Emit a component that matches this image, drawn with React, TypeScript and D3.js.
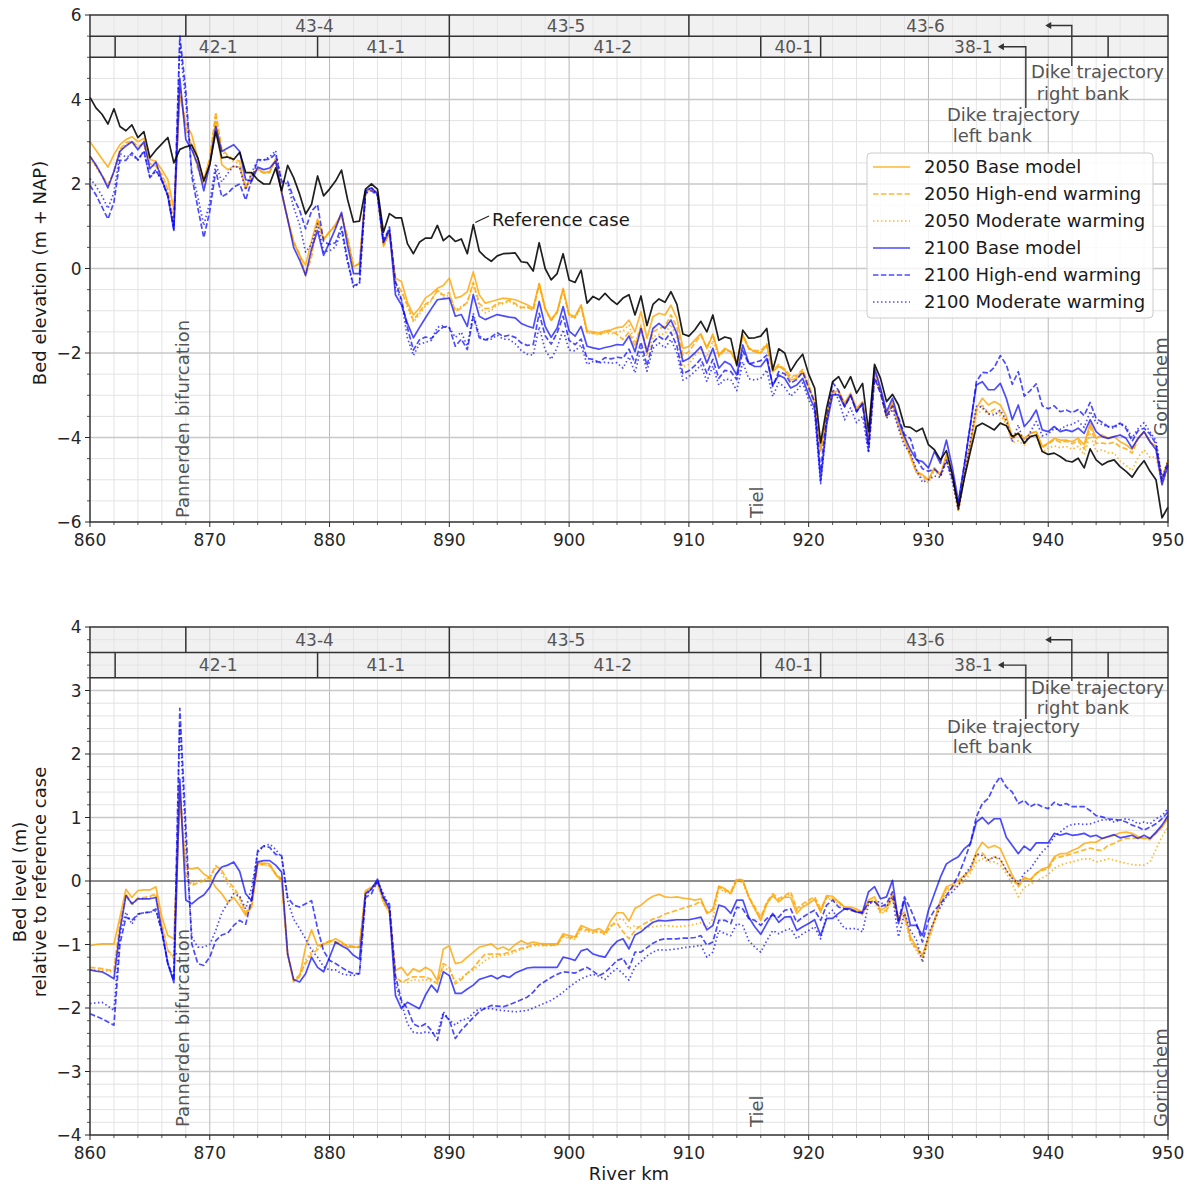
import React from 'react';
import * as d3 from 'd3';

// ---------------- DATA ----------------
const KM = d3.range(860, 950.001, 0.5);

// Top panel: bed elevation (m + NAP)
const REF = [4.05,3.8,3.65,3.42,3.78,3.36,3.26,3.4,3.1,3.24,
2.62,2.8,2.95,3.1,2.5,2.82,2.88,2.92,2.62,2.07,
2.46,3.24,2.62,2.64,2.58,2.75,2.27,2.27,2.1,2.0,
2.0,2.38,1.84,2.44,2.15,1.76,1.29,1.52,2.19,1.72,
1.88,2.07,2.33,1.64,1.1,1.12,1.88,2.0,1.88,0.86,
1.3,1.2,1.2,0.59,0.35,0.62,0.72,0.72,1.02,0.66,
0.78,0.64,0.7,0.35,1.04,0.41,0.27,0.17,0.3,0.35,
0.36,0.37,0.16,0.14,-0.06,0.61,0.0,-0.27,-0.12,0.35,
-0.27,-0.33,-0.04,-0.82,-0.66,-0.74,-0.59,-0.74,-0.85,-0.7,
-0.62,-1.1,-0.65,-1.35,-0.85,-0.72,-0.8,-0.55,-0.85,-1.55,
-1.6,-1.45,-1.25,-1.5,-1.1,-1.7,-1.62,-1.66,-2.3,-1.46,
-1.65,-1.64,-1.6,-1.42,-2.4,-1.9,-2.0,-2.43,-2.2,-2.03,
-2.5,-2.83,-4.13,-3.3,-2.68,-2.56,-2.83,-2.56,-2.95,-2.72,
-3.86,-2.27,-2.6,-3.15,-2.98,-3.23,-3.74,-3.76,-3.86,-3.78,
-4.17,-4.29,-4.53,-4.31,-4.88,-5.67,-4.96,-4.33,-3.74,-3.66,
-3.74,-3.82,-3.66,-3.72,-3.98,-3.9,-4.13,-3.98,-3.94,-4.33,
-4.4,-4.37,-4.45,-4.55,-4.58,-4.49,-4.72,-4.27,-4.53,-4.65,
-4.57,-4.53,-4.69,-4.8,-4.94,-4.72,-4.55,-4.8,-5.0,-5.9,
-5.65];

const T2050_BASE = [3.0,2.8,2.6,2.4,2.7,2.93,3.05,3.12,3.0,3.08,
2.58,2.54,2.34,2.1,1.4,4.1,3.44,3.16,2.6,2.1,
2.6,3.48,2.46,2.34,2.42,2.4,1.88,2.19,2.36,2.27,
2.3,2.58,1.8,1.17,0.62,0.31,0.08,0.66,1.17,0.69,
0.86,1.05,1.29,0.7,0.04,0.12,1.8,1.88,1.8,0.55,
0.86,-0.23,-0.31,-0.8,-1.1,-0.94,-0.7,-0.6,-0.47,-0.4,
-0.23,-0.7,-0.66,-0.55,-0.08,-0.62,-0.82,-0.78,-0.74,-0.7,
-0.72,-0.74,-0.8,-0.86,-0.94,-0.35,-0.94,-1.21,-1.02,-0.47,
-1.09,-1.13,-0.86,-1.48,-1.5,-1.52,-1.48,-1.45,-1.4,-1.38,
-1.22,-1.5,-1.02,-1.65,-1.14,-1.06,-1.1,-0.87,-1.18,-1.89,
-1.85,-1.69,-1.54,-1.89,-1.57,-2.05,-1.89,-1.97,-2.24,-1.57,
-1.89,-1.97,-2.0,-1.81,-2.44,-2.32,-2.4,-2.64,-2.6,-2.44,
-2.8,-3.19,-4.33,-3.5,-2.91,-2.91,-3.19,-2.95,-3.31,-3.15,
-4.1,-2.44,-2.91,-3.46,-3.15,-3.7,-4.02,-4.41,-4.8,-4.88,
-5.0,-4.72,-4.88,-4.41,-4.88,-5.67,-4.88,-4.17,-3.31,-3.07,
-3.23,-3.15,-3.23,-3.5,-3.98,-3.9,-4.02,-3.9,-3.86,-4.21,
-4.13,-4.02,-4.06,-4.06,-4.1,-4.02,-4.17,-3.66,-4.02,-3.94,
-4.02,-3.98,-4.1,-4.17,-4.29,-4.02,-3.86,-4.1,-4.21,-4.96,
-4.57];

const T2050_HIGH = [2.66,2.43,2.21,1.99,2.28,2.82,2.98,3.02,2.89,2.96,
2.48,2.43,2.23,1.87,1.11,4.3,3.33,2.9,2.36,1.99,
2.61,3.7,2.83,2.68,2.58,2.54,1.92,2.24,2.35,2.26,
2.27,2.6,1.83,1.17,0.64,0.34,-0.18,0.28,1.11,0.68,
0.88,1.0,1.26,0.73,0.05,0.11,1.77,1.88,1.8,0.52,
0.84,-0.33,-0.54,-0.86,-1.23,-1.02,-0.85,-0.74,-0.52,-0.63,
-0.57,-1.02,-0.93,-0.8,-0.33,-0.83,-0.95,-0.94,-0.82,-0.81,
-0.75,-0.83,-0.92,-0.91,-0.98,-0.37,-0.96,-1.23,-1.04,-0.5,
-1.12,-1.16,-0.89,-1.51,-1.53,-1.55,-1.51,-1.48,-1.56,-1.68,
-1.5,-1.85,-1.34,-2.0,-1.5,-1.42,-1.37,-1.1,-1.39,-2.05,
-1.97,-1.76,-1.58,-1.87,-1.55,-2.06,-1.92,-1.97,-2.22,-1.57,
-1.89,-1.94,-1.95,-1.78,-2.41,-2.27,-2.38,-2.55,-2.53,-2.39,
-2.74,-3.15,-4.28,-3.52,-2.95,-2.91,-3.19,-2.98,-3.33,-3.17,
-4.13,-2.49,-2.94,-3.51,-3.2,-3.75,-4.07,-4.46,-4.83,-4.91,
-5.03,-4.72,-4.91,-4.44,-4.92,-5.72,-4.91,-4.17,-3.37,-3.24,
-3.42,-3.33,-3.41,-3.63,-4.03,-3.92,-4.04,-3.91,-3.86,-4.23,
-4.16,-4.05,-4.11,-4.09,-4.15,-4.08,-4.27,-3.75,-4.14,-4.13,
-4.15,-4.11,-4.22,-4.27,-4.37,-4.04,-3.87,-4.12,-4.21,-4.96,
-4.54];

const T2050_MOD = [2.62,2.4,2.18,1.97,2.26,2.8,2.94,3.0,2.87,2.94,
2.46,2.41,2.21,1.86,1.09,4.2,3.28,2.92,2.39,2.01,
2.6,3.6,2.78,2.63,2.53,2.49,1.9,2.22,2.34,2.25,
2.28,2.56,1.78,1.16,0.65,0.32,-0.13,0.33,1.14,0.7,
0.87,0.99,1.25,0.72,0.04,0.11,1.78,1.87,1.79,0.53,
0.83,-0.35,-0.53,-0.91,-1.27,-1.08,-0.89,-0.77,-0.5,-0.68,
-0.63,-0.98,-0.9,-0.8,-0.36,-0.91,-1.05,-0.99,-0.86,-0.83,
-0.78,-0.86,-0.94,-0.92,-1.0,-0.39,-0.97,-1.24,-1.04,-0.52,
-1.13,-1.17,-0.93,-1.53,-1.54,-1.57,-1.52,-1.55,-1.5,-1.48,
-1.34,-1.77,-1.39,-2.08,-1.62,-1.56,-1.55,-1.32,-1.65,-2.33,
-2.27,-2.07,-1.92,-2.1,-1.71,-2.09,-1.94,-1.97,-2.26,-1.6,
-1.91,-1.97,-1.98,-1.81,-2.44,-2.29,-2.41,-2.58,-2.55,-2.42,
-2.77,-3.18,-4.31,-3.54,-2.97,-2.94,-3.21,-3.0,-3.35,-3.19,
-4.15,-2.51,-2.96,-3.53,-3.23,-3.77,-4.1,-4.48,-4.86,-4.96,
-5.07,-4.76,-4.95,-4.48,-4.95,-5.75,-4.97,-4.22,-3.47,-3.33,
-3.45,-3.41,-3.49,-3.68,-4.12,-4.08,-4.18,-3.97,-3.98,-4.35,
-4.25,-4.2,-4.24,-4.21,-4.28,-4.21,-4.41,-3.92,-4.33,-4.29,
-4.36,-4.37,-4.56,-4.66,-4.78,-4.47,-4.29,-4.47,-4.46,-5.11,
-4.7];

const T2100_BASE = [2.66,2.45,2.2,1.91,2.3,2.77,2.9,3.0,2.81,3.0,
2.36,2.52,2.1,1.72,0.9,4.5,3.05,2.81,2.46,1.84,
2.46,3.36,2.77,2.85,2.93,2.77,2.1,2.07,2.4,2.34,
2.38,2.54,1.8,1.17,0.5,0.2,-0.16,0.47,0.9,0.31,
0.62,0.95,1.33,0.55,-0.12,-0.12,1.84,1.91,1.76,0.62,
0.9,-0.62,-0.86,-1.3,-1.64,-1.4,-1.17,-0.95,-0.74,-0.72,
-0.7,-1.13,-1.09,-1.37,-0.62,-1.13,-1.21,-1.15,-1.09,-1.12,
-1.15,-1.17,-1.3,-1.36,-1.41,-0.78,-1.37,-1.63,-1.41,-0.9,
-1.48,-1.6,-1.37,-1.84,-1.88,-1.91,-1.87,-1.84,-1.8,-1.81,
-1.6,-1.97,-1.42,-1.97,-1.42,-1.3,-1.42,-1.22,-1.54,-2.2,
-2.13,-2.0,-1.85,-2.24,-1.89,-2.36,-2.2,-2.28,-2.52,-1.81,
-2.24,-2.32,-2.32,-2.13,-2.76,-2.52,-2.6,-2.83,-2.76,-2.6,
-2.99,-3.31,-5.04,-3.7,-2.99,-2.99,-3.27,-2.99,-3.39,-3.19,
-4.17,-2.36,-2.83,-3.39,-3.07,-3.58,-3.98,-4.29,-4.53,-4.57,
-4.72,-4.33,-4.61,-4.06,-4.72,-5.51,-4.65,-3.7,-2.76,-2.68,
-2.87,-2.87,-2.72,-3.07,-3.58,-3.23,-3.74,-3.58,-3.35,-3.82,
-3.86,-3.74,-3.86,-3.82,-3.86,-3.78,-3.9,-3.58,-3.86,-3.98,
-4.02,-3.98,-3.94,-4.02,-4.25,-4.02,-3.86,-4.1,-4.29,-5.12,
-4.65];

const T2100_HIGH = [1.97,1.74,1.46,1.17,1.57,2.56,2.56,2.74,2.57,2.78,
2.15,2.34,2.07,1.72,0.93,5.5,4.2,2.18,1.44,0.73,
1.36,2.32,1.7,1.78,1.93,2.0,1.62,2.1,2.58,2.57,
2.59,2.71,2.06,2.06,1.67,1.38,0.94,1.36,1.51,0.64,
0.57,0.61,0.99,0.2,-0.41,-0.35,1.78,1.84,1.73,0.62,
0.98,-0.31,-0.73,-1.4,-1.93,-1.69,-1.62,-1.66,-1.5,-1.38,
-1.4,-1.84,-1.67,-1.92,-1.13,-1.64,-1.69,-1.62,-1.52,-1.61,
-1.58,-1.63,-1.76,-1.82,-1.8,-1.06,-1.59,-1.79,-1.52,-1.13,
-1.7,-1.8,-1.67,-2.13,-2.15,-2.22,-2.11,-2.14,-2.1,-2.12,
-1.91,-2.24,-1.74,-2.3,-1.75,-1.61,-1.7,-1.51,-1.84,-2.49,
-2.42,-2.3,-2.14,-2.48,-2.15,-2.6,-2.41,-2.44,-2.63,-1.95,
-2.26,-2.22,-2.18,-2.05,-2.79,-2.44,-2.49,-2.71,-2.63,-2.45,
-2.83,-3.16,-4.8,-3.49,-2.7,-2.89,-3.27,-3.01,-3.39,-3.21,
-4.33,-2.6,-2.96,-3.5,-3.25,-3.53,-3.93,-4.03,-4.5,-4.74,
-4.8,-4.75,-4.89,-4.54,-4.97,-5.58,-4.63,-3.7,-2.68,-2.46,
-2.47,-2.34,-2.06,-2.28,-2.74,-2.44,-3.02,-2.89,-2.73,-3.25,
-3.32,-3.25,-3.39,-3.35,-3.41,-3.34,-3.48,-3.17,-3.55,-3.64,
-3.74,-3.74,-3.66,-3.79,-4.09,-3.84,-3.78,-3.92,-4.16,-5.02,
-4.59];

const T2100_MOD = [2.13,1.95,1.72,1.42,1.8,2.72,2.64,2.68,2.57,2.78,
2.15,2.31,2.1,1.72,0.99,5.3,3.95,2.29,1.7,1.02,
1.56,2.48,2.05,2.25,2.43,2.38,1.86,2.28,2.55,2.57,
2.64,2.79,2.03,2.01,1.45,1.04,0.39,0.58,1.06,0.39,
0.42,0.51,0.89,0.14,-0.44,-0.35,1.81,1.92,1.73,0.68,
0.93,-0.44,-0.76,-1.64,-2.06,-1.79,-1.75,-1.7,-1.39,-1.35,
-1.4,-1.63,-1.51,-1.84,-1.06,-1.59,-1.7,-1.67,-1.58,-1.67,
-1.68,-1.78,-1.94,-2.03,-2.05,-1.38,-1.93,-2.15,-1.87,-1.45,
-1.93,-1.95,-1.81,-2.27,-2.2,-2.23,-2.22,-2.24,-2.23,-2.36,
-2.09,-2.47,-1.89,-2.43,-1.89,-1.76,-1.88,-1.68,-2.0,-2.64,
-2.56,-2.44,-2.29,-2.67,-2.31,-2.76,-2.62,-2.63,-2.89,-2.21,
-2.61,-2.64,-2.6,-2.4,-3.03,-2.7,-2.81,-3.02,-2.89,-2.71,
-3.1,-3.42,-5.09,-3.65,-2.86,-3.1,-3.58,-3.3,-3.65,-3.5,
-4.36,-2.6,-2.88,-3.55,-3.33,-3.79,-4.19,-4.37,-4.76,-5.06,
-5.0,-4.91,-4.94,-4.56,-5.05,-5.74,-4.87,-4.07,-3.26,-3.28,
-3.44,-3.47,-3.35,-3.59,-4.1,-3.7,-4.17,-3.87,-3.62,-3.96,
-3.91,-3.79,-3.81,-3.72,-3.69,-3.61,-3.76,-3.38,-3.65,-3.69,
-3.75,-3.78,-3.66,-3.74,-4.01,-3.79,-3.65,-3.87,-4.08,-4.97,
-4.54];

// Bottom panel: bed level relative to reference case (m)
const D2050_BASE = [-1.02,-1.0,-0.99,-0.99,-0.99,-0.57,-0.13,-0.26,-0.15,-0.14,
-0.14,-0.09,-0.57,-0.86,-0.91,1.3,0.21,0.19,0.21,0.11,
0.05,-0.1,-0.2,-0.34,-0.26,-0.39,-0.54,-0.41,0.28,0.28,
0.27,0.1,0.0,-1.15,-1.59,-1.51,-1.04,-0.77,-1.02,-0.99,
-0.96,-0.91,-0.96,-1.04,-1.04,-1.04,-0.15,-0.1,-0.02,-0.31,
-0.47,-1.41,-1.36,-1.49,-1.38,-1.43,-1.36,-1.41,-1.57,-1.07,
-1.02,-1.3,-1.28,-1.2,-1.12,-1.04,-1.02,-0.99,-1.07,-1.04,
-1.09,-1.0,-0.94,-0.99,-0.96,-0.98,-0.99,-0.99,-0.99,-0.83,
-0.86,-0.88,-0.7,-0.74,-0.78,-0.75,-0.81,-0.62,-0.5,-0.5,
-0.63,-0.43,-0.38,-0.3,-0.24,-0.21,-0.25,-0.26,-0.25,-0.27,
-0.28,-0.3,-0.28,-0.51,-0.46,-0.08,-0.12,-0.2,0.02,0.01,
-0.25,-0.44,-0.62,-0.36,-0.23,-0.33,-0.25,-0.26,-0.51,-0.41,
-0.36,-0.29,-0.49,-0.23,-0.24,-0.33,-0.41,-0.41,-0.44,-0.49,
-0.3,-0.25,-0.46,-0.41,-0.2,-0.57,-0.49,-0.88,-1.04,-1.17,
-0.88,-0.62,-0.3,-0.09,-0.05,0.01,0.09,0.17,0.46,0.61,
0.52,0.56,0.51,0.3,0.09,-0.07,0.06,0.02,0.12,0.19,
0.22,0.38,0.43,0.43,0.48,0.52,0.59,0.61,0.61,0.67,
0.69,0.72,0.76,0.77,0.75,0.7,0.68,0.67,0.75,0.85,
0.98];

const D2050_HIGH = [-1.36,-1.37,-1.38,-1.4,-1.41,-0.68,-0.2,-0.36,-0.26,-0.26,
-0.24,-0.2,-0.68,-1.09,-1.2,1.5,0.1,-0.07,-0.03,0.0,
0.06,0.24,0.17,0.0,-0.1,-0.25,-0.5,-0.36,0.27,0.26,
0.24,0.12,0.03,-1.15,-1.57,-1.48,-1.3,-1.15,-1.08,-1.0,
-0.94,-0.96,-0.99,-1.01,-1.03,-1.04,-0.18,-0.1,-0.02,-0.34,
-0.49,-1.51,-1.59,-1.55,-1.51,-1.51,-1.51,-1.55,-1.62,-1.3,
-1.36,-1.62,-1.55,-1.45,-1.37,-1.25,-1.15,-1.15,-1.15,-1.15,
-1.12,-1.09,-1.06,-1.04,-1.0,-1.0,-1.01,-1.01,-1.01,-0.86,
-0.89,-0.9,-0.74,-0.77,-0.8,-0.78,-0.84,-0.7,-0.66,-0.8,
-0.91,-0.78,-0.7,-0.65,-0.6,-0.57,-0.52,-0.49,-0.46,-0.43,
-0.4,-0.37,-0.32,-0.49,-0.44,-0.09,-0.15,-0.17,0.04,0.01,
-0.25,-0.41,-0.57,-0.33,-0.2,-0.28,-0.23,-0.17,-0.44,-0.36,
-0.3,-0.25,-0.44,-0.25,-0.28,-0.33,-0.41,-0.44,-0.46,-0.51,
-0.33,-0.3,-0.49,-0.46,-0.25,-0.62,-0.54,-0.93,-1.07,-1.2,
-0.91,-0.62,-0.33,-0.12,-0.09,-0.04,0.06,0.17,0.4,0.44,
0.33,0.38,0.33,0.17,0.04,-0.09,0.04,0.01,0.12,0.17,
0.19,0.35,0.38,0.4,0.43,0.46,0.49,0.52,0.49,0.48,
0.56,0.59,0.64,0.67,0.67,0.68,0.67,0.65,0.75,0.85,
1.01];

const D2050_MOD = [-1.4,-1.4,-1.41,-1.42,-1.43,-0.7,-0.24,-0.38,-0.28,-0.28,
-0.26,-0.22,-0.7,-1.1,-1.22,1.4,0.05,-0.05,0.0,0.02,
0.05,0.2,0.12,-0.05,-0.15,-0.3,-0.52,-0.38,0.26,0.25,
0.23,0.1,0.02,-1.16,-1.56,-1.5,-1.25,-1.1,-1.05,-0.98,
-0.95,-0.97,-1.0,-1.02,-1.04,-1.05,-0.17,-0.11,-0.03,-0.33,
-0.5,-1.53,-1.58,-1.6,-1.55,-1.57,-1.55,-1.58,-1.6,-1.35,
-1.42,-1.58,-1.52,-1.45,-1.4,-1.33,-1.25,-1.2,-1.19,-1.17,
-1.15,-1.12,-1.08,-1.05,-1.02,-1.02,-1.02,-1.02,-1.01,-0.88,
-0.9,-0.92,-0.77,-0.79,-0.82,-0.8,-0.85,-0.72,-0.6,-0.6,
-0.75,-0.7,-0.75,-0.73,-0.72,-0.71,-0.7,-0.71,-0.72,-0.71,
-0.7,-0.68,-0.66,-0.72,-0.6,-0.12,-0.17,-0.2,0.0,-0.02,
-0.27,-0.44,-0.6,-0.36,-0.23,-0.3,-0.26,-0.2,-0.46,-0.39,
-0.33,-0.28,-0.47,-0.27,-0.3,-0.36,-0.43,-0.46,-0.48,-0.53,
-0.35,-0.32,-0.51,-0.48,-0.28,-0.64,-0.57,-0.95,-1.1,-1.25,
-0.95,-0.66,-0.37,-0.16,-0.12,-0.07,0.0,0.12,0.3,0.35,
0.3,0.3,0.25,0.12,-0.05,-0.25,-0.1,-0.05,0.0,0.05,
0.1,0.2,0.25,0.28,0.3,0.33,0.35,0.35,0.3,0.32,
0.35,0.33,0.3,0.28,0.26,0.25,0.25,0.3,0.5,0.7,
0.85];

const D2100_BASE = [-1.4,-1.42,-1.43,-1.48,-1.54,-0.78,-0.23,-0.36,-0.28,-0.28,
-0.28,-0.26,-0.78,-1.3,-1.6,1.6,-0.3,-0.36,-0.28,-0.22,
-0.1,0.1,0.22,0.25,0.3,0.15,-0.2,-0.31,0.3,0.32,
0.32,0.25,0.14,-1.15,-1.55,-1.59,-1.46,-1.2,-1.36,-1.43,
-1.2,-0.96,-1.02,-1.07,-1.17,-1.23,-0.2,-0.13,0.03,-0.26,
-0.44,-1.8,-2.01,-1.91,-1.96,-2.01,-1.8,-1.64,-1.75,-1.43,
-1.49,-1.77,-1.77,-1.7,-1.64,-1.55,-1.52,-1.49,-1.54,-1.49,
-1.52,-1.45,-1.41,-1.37,-1.36,-1.36,-1.36,-1.36,-1.36,-1.2,
-1.22,-1.25,-1.1,-1.07,-1.15,-1.18,-1.2,-1.05,-0.95,-0.91,
-1.07,-0.85,-0.8,-0.72,-0.65,-0.62,-0.63,-0.62,-0.61,-0.61,
-0.61,-0.59,-0.57,-0.77,-0.7,-0.38,-0.41,-0.51,-0.3,-0.3,
-0.57,-0.72,-0.84,-0.67,-0.51,-0.65,-0.57,-0.56,-0.78,-0.72,
-0.67,-0.61,-0.86,-0.59,-0.59,-0.51,-0.44,-0.44,-0.49,-0.49,
-0.17,-0.09,-0.28,-0.25,0.01,-0.67,-0.3,-0.7,-0.7,-0.86,
-0.46,-0.2,0.06,0.27,0.33,0.38,0.51,0.59,0.93,1.0,
0.9,0.98,0.98,0.69,0.56,0.43,0.55,0.48,0.6,0.6,
0.6,0.75,0.72,0.75,0.72,0.73,0.75,0.7,0.72,0.67,
0.7,0.73,0.68,0.7,0.72,0.67,0.72,0.67,0.77,0.88,
1.03];

const D2100_HIGH = [-2.09,-2.13,-2.17,-2.22,-2.27,-0.99,-0.57,-0.62,-0.52,-0.5,
-0.49,-0.44,-0.81,-1.3,-1.57,2.72,0.85,-0.99,-1.3,-1.33,
-1.2,-0.94,-0.85,-0.82,-0.7,-0.62,-0.68,-0.28,0.48,0.55,
0.53,0.42,0.4,-0.26,-0.38,-0.41,-0.36,-0.31,-0.75,-1.1,
-1.25,-1.3,-1.36,-1.42,-1.46,-1.46,-0.26,-0.2,0.0,-0.26,
-0.36,-1.49,-1.88,-2.01,-2.25,-2.3,-2.25,-2.35,-2.51,-2.09,
-2.19,-2.48,-2.35,-2.25,-2.15,-2.06,-2.0,-1.96,-1.97,-1.98,
-1.95,-1.91,-1.87,-1.83,-1.75,-1.64,-1.58,-1.52,-1.47,-1.43,
-1.44,-1.45,-1.4,-1.36,-1.42,-1.49,-1.44,-1.35,-1.25,-1.22,
-1.38,-1.12,-1.12,-1.05,-0.98,-0.93,-0.91,-0.91,-0.91,-0.9,
-0.9,-0.89,-0.86,-1.01,-0.96,-0.62,-0.62,-0.67,-0.41,-0.44,
-0.59,-0.62,-0.7,-0.59,-0.54,-0.57,-0.46,-0.44,-0.65,-0.57,
-0.51,-0.46,-0.62,-0.38,-0.3,-0.41,-0.44,-0.46,-0.49,-0.51,
-0.33,-0.33,-0.41,-0.36,-0.17,-0.62,-0.25,-0.44,-0.67,-0.96,
-0.62,-0.46,-0.36,-0.23,-0.09,0.09,0.33,0.59,1.01,1.22,
1.3,1.51,1.64,1.48,1.4,1.22,1.27,1.17,1.22,1.17,
1.14,1.24,1.19,1.22,1.17,1.17,1.17,1.11,1.03,1.01,
0.98,0.97,0.96,0.93,0.88,0.85,0.8,0.85,0.9,0.98,
1.09];

const D2100_MOD = [-1.93,-1.92,-1.91,-1.97,-2.04,-0.83,-0.49,-0.68,-0.52,-0.5,
-0.49,-0.47,-0.78,-1.3,-1.51,2.47,0.6,-0.88,-1.04,-1.04,
-1.0,-0.78,-0.5,-0.35,-0.2,-0.24,-0.44,-0.1,0.45,0.55,
0.58,0.5,0.37,-0.31,-0.6,-0.75,-0.91,-1.09,-1.2,-1.35,
-1.4,-1.4,-1.46,-1.48,-1.49,-1.46,-0.23,-0.12,0.0,-0.2,
-0.41,-1.62,-1.91,-2.25,-2.38,-2.4,-2.38,-2.39,-2.4,-2.06,
-2.19,-2.27,-2.19,-2.17,-2.08,-2.01,-2.01,-2.01,-2.03,-2.04,
-2.05,-2.06,-2.05,-2.04,-2.0,-1.96,-1.92,-1.88,-1.82,-1.75,
-1.67,-1.6,-1.54,-1.5,-1.47,-1.5,-1.55,-1.45,-1.38,-1.46,
-1.56,-1.35,-1.27,-1.18,-1.12,-1.08,-1.09,-1.08,-1.07,-1.05,
-1.04,-1.03,-1.01,-1.2,-1.12,-0.78,-0.83,-0.86,-0.67,-0.7,
-0.94,-1.04,-1.12,-0.94,-0.78,-0.83,-0.78,-0.75,-0.91,-0.83,
-0.78,-0.72,-0.91,-0.54,-0.46,-0.62,-0.75,-0.75,-0.75,-0.8,
-0.36,-0.33,-0.33,-0.41,-0.25,-0.88,-0.51,-0.78,-0.93,-1.28,
-0.83,-0.62,-0.41,-0.25,-0.17,-0.07,0.09,0.22,0.43,0.4,
0.33,0.38,0.35,0.17,0.04,-0.04,0.12,0.19,0.33,0.46,
0.55,0.7,0.77,0.85,0.89,0.9,0.89,0.9,0.93,0.96,
0.97,0.93,0.96,0.98,0.96,0.9,0.93,0.9,0.98,1.03,
1.14];

// Section headers (river km boundaries and labels)
const DIKE_RING_EDGES = [868, 890, 910];
const DIKE_RING_LABELS = ['43-4', '43-5', '43-6'];
const DIKE_RING_LABEL_KM = [878.75, 899.75, 929.75];
const DIKE_TRAJ_EDGES = [862.1, 879, 890, 916, 921, 945];
const DIKE_TRAJ_LABELS = ['42-1', '41-1', '41-2', '40-1', '38-1'];
const DIKE_TRAJ_LABEL_KM = [870.7, 884.7, 903.65, 918.75, 933.75];

const PLACES = ['Pannerden bifurcation', 'Tiel', 'Gorinchem'];
const PLACE_KM = [868.27, 916.2, 949.9];

const X_TICKS = d3.range(860, 951, 10);

// ---------------- STYLE ----------------
const FONT = "'DejaVu Sans', 'Liberation Sans', sans-serif";
const W = 1192;
const H = 1183;
const ORANGE = '#ffa500';
const BLUE = '#0000ff';
const DASHED = '5.5,2.4';
const DOTTED = '1.5,2.5';
const TXT_GRAY = '#555555';

const SERIES = [
  { label: '2050 Base model', color: ORANGE, op: 0.8, dash: undefined as string | undefined, top: T2050_BASE, diff: D2050_BASE },
  { label: '2050 High-end warming', color: ORANGE, op: 0.8, dash: DASHED, top: T2050_HIGH, diff: D2050_HIGH },
  { label: '2050 Moderate warming', color: ORANGE, op: 0.8, dash: DOTTED, top: T2050_MOD, diff: D2050_MOD },
  { label: '2100 Base model', color: BLUE, op: 0.7, dash: undefined as string | undefined, top: T2100_BASE, diff: D2100_BASE },
  { label: '2100 High-end warming', color: BLUE, op: 0.7, dash: DASHED, top: T2100_HIGH, diff: D2100_HIGH },
  { label: '2100 Moderate warming', color: BLUE, op: 0.7, dash: DOTTED, top: T2100_MOD, diff: D2100_MOD },
];

const x = d3.scaleLinear().domain([860, 950]).range([90, 1168]);

const fmt = (v: number) => {
  const r = Math.round(v * 100) / 100;
  return r < 0 ? '\u2212' + String(Math.abs(r)) : String(r);
};

interface PanelCfg {
  y: d3.ScaleLinear<number, number>;
  yMin: number;
  yMax: number;
  major: number;
  minor: number;
  row1: [number, number];
  row2: [number, number];
  key: 'top' | 'diff';
  placeBottom: number[];
  annot: { rb: number[]; lb: number[]; rbStart: number; lbStart: number };
}

function Panel({ cfg }: { cfg: PanelCfg }) {
  const { y, yMin, yMax, major, minor } = cfg;
  const top = y(yMax);
  const bottom = y(yMin);
  const xl = x.range()[0];
  const xr = x.range()[1];

  const yMajor = d3.range(Math.round(yMin / major), Math.round(yMax / major) + 1).map((i) => i * major);
  const yMinorAll = d3.range(Math.round(yMin / minor), Math.round(yMax / minor) + 1).map((i) => Math.round(i * minor * 1000) / 1000);
  const yMinor = yMinorAll.filter((v) => Math.abs(v / major - Math.round(v / major)) > 1e-6);
  const xMinor = d3.range(860, 951, 2).filter((v) => v % 10 !== 0);

  const line = d3
    .line<number>()
    .x((_, i) => x(KM[i]))
    .y((d) => y(d));

  const r1a = y(cfg.row1[1]);
  const r1b = y(cfg.row1[0]);
  const r2a = y(cfg.row2[1]);
  const r2b = y(cfg.row2[0]);
  const r1c = (r1a + r1b) / 2;
  const r2c = (r2a + r2b) / 2;

  const rbTip = x(939.75);
  const rbCorner = x(941.97);
  const lbTip = x(935.8);
  const lbCorner = x(938.13);

  return (
    <g>
      {/* grid */}
      {xMinor.map((v) => (
        <line key={'xm' + v} x1={x(v)} x2={x(v)} y1={top} y2={bottom} stroke="#e3e3e3" strokeWidth={1} />
      ))}
      {yMinor.map((v) => (
        <line key={'ym' + v} x1={xl} x2={xr} y1={y(v)} y2={y(v)} stroke="#e3e3e3" strokeWidth={1} />
      ))}
      {X_TICKS.map((v) => (
        <line key={'xM' + v} x1={x(v)} x2={x(v)} y1={top} y2={bottom} stroke="#b8b8b8" strokeWidth={1} />
      ))}
      {yMajor.map((v) => (
        <line key={'yM' + v} x1={xl} x2={xr} y1={y(v)} y2={y(v)} stroke="#c8c8c8" strokeWidth={1.4} />
      ))}
      {cfg.key === 'diff' && <line x1={xl} x2={xr} y1={y(0)} y2={y(0)} stroke="#444" strokeWidth={1.2} />}

      {/* header rows */}
      <rect x={xl} y={r1a} width={xr - xl} height={r2b - r1a} fill="#e4e4e4" opacity={0.5} />
      <line x1={xl} x2={xr} y1={r2a} y2={r2a} stroke="#333" strokeWidth={1.5} />
      <line x1={xl} x2={xr} y1={r2b} y2={r2b} stroke="#333" strokeWidth={1.5} />
      {DIKE_RING_EDGES.map((k) => (
        <line key={'r1' + k} x1={x(k)} x2={x(k)} y1={r1a} y2={r1b} stroke="#333" strokeWidth={1.5} />
      ))}
      {DIKE_TRAJ_EDGES.map((k) => (
        <line key={'r2' + k} x1={x(k)} x2={x(k)} y1={r2a} y2={r2b} stroke="#333" strokeWidth={1.5} />
      ))}
      {DIKE_RING_LABELS.map((t, i) => (
        <text key={t} x={x(DIKE_RING_LABEL_KM[i])} y={r1c + 6} textAnchor="middle" fontSize={17} fill={TXT_GRAY} fontFamily={FONT}>
          {t}
        </text>
      ))}
      {DIKE_TRAJ_LABELS.map((t, i) => (
        <text key={t} x={x(DIKE_TRAJ_LABEL_KM[i])} y={r2c + 6} textAnchor="middle" fontSize={17} fill={TXT_GRAY} fontFamily={FONT}>
          {t}
        </text>
      ))}

      {/* data lines */}
      {SERIES.map((s) => (
        <path
          key={s.label}
          d={line(cfg.key === 'top' ? s.top : s.diff) || ''}
          fill="none"
          stroke={s.color}
          strokeOpacity={s.op}
          strokeWidth={1.7}
          strokeDasharray={s.dash}
          strokeLinejoin="round"
        />
      ))}
      {cfg.key === 'top' && (
        <path d={line(REF) || ''} fill="none" stroke="#000" strokeOpacity={0.88} strokeWidth={1.7} strokeLinejoin="round" />
      )}

      {/* place names */}
      {PLACES.map((p, i) => (
        <text
          key={p}
          transform={`translate(${x(PLACE_KM[i])},${cfg.placeBottom[i]}) rotate(-90)`}
          fontSize={18}
          fill={TXT_GRAY}
          fontFamily={FONT}
        >
          {p}
        </text>
      ))}

      {/* dike trajectory annotations */}
      <path d={`M${rbCorner},${cfg.annot.rbStart} V${r1c} H${rbTip + 5}`} fill="none" stroke="#333" strokeWidth={1.4} />
      <path d={`M${rbTip},${r1c} l6,-3.5 v7 z`} fill="#333" />
      <path d={`M${lbCorner},${cfg.annot.lbStart} V${r2c} H${lbTip + 5}`} fill="none" stroke="#333" strokeWidth={1.4} />
      <path d={`M${lbTip},${r2c} l6,-3.5 v7 z`} fill="#333" />
      <text x={1031} y={cfg.annot.rb[0] + 6} fontSize={18} fill={TXT_GRAY} fontFamily={FONT}>Dike trajectory</text>
      <text x={1031} y={cfg.annot.rb[1] + 6} fontSize={18} fill={TXT_GRAY} fontFamily={FONT} xmlSpace="preserve">{' right bank'}</text>
      <text x={947} y={cfg.annot.lb[0] + 6} fontSize={18} fill={TXT_GRAY} fontFamily={FONT}>Dike trajectory</text>
      <text x={947} y={cfg.annot.lb[1] + 6} fontSize={18} fill={TXT_GRAY} fontFamily={FONT} xmlSpace="preserve">{' left bank'}</text>

      {/* spines */}
      <rect x={xl} y={top} width={xr - xl} height={bottom - top} fill="none" stroke="#262626" strokeWidth={1.3} />

      {/* ticks */}
      {X_TICKS.map((v) => (
        <g key={'xt' + v}>
          <line x1={x(v)} x2={x(v)} y1={bottom} y2={bottom + 5} stroke="#262626" strokeWidth={1} />
          <text x={x(v)} y={bottom + 24} textAnchor="middle" fontSize={17} fill="#262626" fontFamily={FONT}>
            {v}
          </text>
        </g>
      ))}
      {xMinor.map((v) => (
        <line key={'xmt' + v} x1={x(v)} x2={x(v)} y1={bottom} y2={bottom + 3} stroke="#262626" strokeWidth={0.8} />
      ))}
      {yMajor.map((v) => (
        <g key={'yt' + v}>
          <line x1={xl - 5} x2={xl} y1={y(v)} y2={y(v)} stroke="#262626" strokeWidth={1} />
          <text x={81.5} y={y(v) + 6} textAnchor="end" fontSize={17} fill="#262626" fontFamily={FONT}>
            {fmt(v)}
          </text>
        </g>
      ))}
      {yMinor.map((v) => (
        <line key={'ymt' + v} x1={xl - 3} x2={xl} y1={y(v)} y2={y(v)} stroke="#262626" strokeWidth={0.8} />
      ))}
    </g>
  );
}

export default function App() {
  const yTop = d3.scaleLinear().domain([-6, 6]).range([522, 15]);
  const yBot = d3.scaleLinear().domain([-4, 4]).range([1135, 627]);

  const topCfg: PanelCfg = {
    y: yTop, yMin: -6, yMax: 6, major: 2, minor: 0.5,
    row1: [5.5, 6], row2: [5, 5.5], key: 'top',
    placeBottom: [518, 518, 436],
    annot: { rb: [72, 94], lb: [115, 136], rbStart: 66, lbStart: 108 },
  };
  const botCfg: PanelCfg = {
    y: yBot, yMin: -4, yMax: 4, major: 1, minor: 0.2,
    row1: [3.6, 4], row2: [3.2, 3.6], key: 'diff',
    placeBottom: [1127, 1127, 1127],
    annot: { rb: [688, 708], lb: [727, 747], rbStart: 681, lbStart: 719 },
  };

  const legendItems = SERIES;
  const lgX = 867, lgY = 153, lgW = 286, lgH = 165;

  // reference case annotation point
  const refIdx = KM.indexOf(892);
  const rx = x(KM[refIdx]);
  const ry = yTop(REF[refIdx]);

  return (
    <svg width={W} height={H} style={{ position: 'absolute', left: 0, top: 0, background: '#fff' }}>
      <rect x={0} y={0} width={W} height={H} fill="#fff" />
      <Panel cfg={topCfg} />
      <Panel cfg={botCfg} />

      {/* Reference case label */}
      <line x1={rx + 2} y1={ry - 2} x2={489} y2={216} stroke="#222" strokeWidth={1.2} />
      <text x={492} y={226} fontSize={18} fill="#1a1a1a" fontFamily={FONT}>Reference case</text>

      {/* legend */}
      <rect x={lgX} y={lgY} width={lgW} height={lgH} rx={4} fill="#fff" fillOpacity={0.8} stroke="#cccccc" strokeWidth={1} />
      {legendItems.map((s, i) => {
        const cy = lgY + 14 + i * 27;
        return (
          <g key={'lg' + s.label}>
            <line x1={lgX + 6} x2={lgX + 43} y1={cy} y2={cy} stroke={s.color} strokeOpacity={s.op} strokeWidth={1.7} strokeDasharray={s.dash} />
            <text x={lgX + 57} y={cy + 6.3} fontSize={18} fill="#1a1a1a" fontFamily={FONT}>
              {s.label}
            </text>
          </g>
        );
      })}

      {/* axis labels */}
      <text transform="translate(45.5,273) rotate(-90)" textAnchor="middle" fontSize={18} fill="#1a1a1a" fontFamily={FONT}>
        Bed elevation (m + NAP)
      </text>
      <text transform="translate(25.5,882) rotate(-90)" textAnchor="middle" fontSize={18} fill="#1a1a1a" fontFamily={FONT}>
        Bed level (m)
      </text>
      <text transform="translate(46,882) rotate(-90)" textAnchor="middle" fontSize={18} fill="#1a1a1a" fontFamily={FONT}>
        relative to reference case
      </text>
      <text x={629} y={1180} textAnchor="middle" fontSize={18} fill="#1a1a1a" fontFamily={FONT}>
        River km
      </text>
    </svg>
  );
}
